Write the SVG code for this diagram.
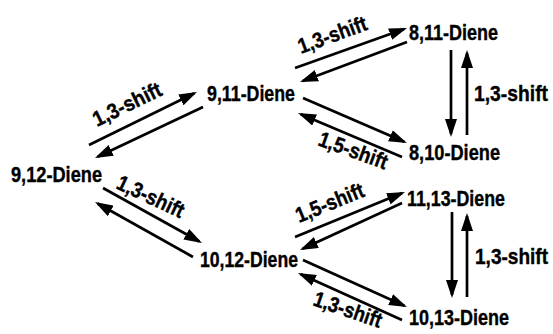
<svg xmlns="http://www.w3.org/2000/svg" width="553" height="334" viewBox="0 0 553 334">
<defs>
<style>
text{font-family:"Liberation Sans",Arial,sans-serif;font-weight:bold;fill:#000;stroke:#000;stroke-width:0.4}
.n{font-size:22.5px}
.s{font-size:21.5px}
.c line{stroke:#000;stroke-width:2.7;marker-end:url(#ah)}
</style>
<marker id="ah" viewBox="0 0 18 12" markerWidth="18" markerHeight="12" refX="15" refY="6" orient="auto" markerUnits="userSpaceOnUse">
<path d="M0,0 L18,6 L0,12 z" fill="#000"/>
</marker>
</defs>
<rect width="553" height="334" fill="#fff"/>
<g id="n912"><text class="n" x="11" y="182" textLength="91" lengthAdjust="spacingAndGlyphs">9,12-Diene</text></g>
<g id="n911"><text class="n" x="207" y="101" textLength="88" lengthAdjust="spacingAndGlyphs">9,11-Diene</text></g>
<g id="n811"><text class="n" x="409" y="40" textLength="89" lengthAdjust="spacingAndGlyphs">8,11-Diene</text></g>
<g id="n810"><text class="n" x="409" y="160" textLength="91" lengthAdjust="spacingAndGlyphs">8,10-Diene</text></g>
<g id="n1113"><text class="n" x="407" y="206" textLength="98" lengthAdjust="spacingAndGlyphs">11,13-Diene</text></g>
<g id="n1012"><text class="n" x="200" y="267" textLength="98" lengthAdjust="spacingAndGlyphs">10,12-Diene</text></g>
<g id="n1013"><text class="n" x="409" y="325" textLength="100" lengthAdjust="spacingAndGlyphs">10,13-Diene</text></g>
<g class="c" id="connectors">
<line x1="89" y1="145" x2="194.3" y2="93.3"/>
<line x1="203" y1="107" x2="97.7" y2="156.7"/>
<line x1="295" y1="68" x2="404.2" y2="29"/>
<line x1="407" y1="42" x2="302.8" y2="81"/>
<line x1="303" y1="98" x2="404.2" y2="141.8"/>
<line x1="402" y1="157" x2="300.8" y2="114.2"/>
<line x1="103" y1="188" x2="199.4" y2="241.5"/>
<line x1="193" y1="257" x2="97.6" y2="203.5"/>
<line x1="295" y1="237" x2="402.2" y2="193.1"/>
<line x1="402" y1="203" x2="302.7" y2="248.7"/>
<line x1="303" y1="260" x2="404.3" y2="305.8"/>
<line x1="402" y1="320" x2="300.7" y2="274.2"/>
<line x1="451" y1="50" x2="451" y2="134"/>
<line x1="467" y1="135" x2="467" y2="53"/>
<line x1="452" y1="212" x2="452" y2="295"/>
<line x1="467" y1="297" x2="467" y2="216"/>
</g>
<g id="labels">
<text class="s" transform="translate(97,127) rotate(-26)" textLength="74" lengthAdjust="spacingAndGlyphs">1,3-shift</text>
<text class="s" transform="translate(301,54) rotate(-20)" textLength="72" lengthAdjust="spacingAndGlyphs">1,3-shift</text>
<text class="s" transform="translate(317,145) rotate(20)" textLength="72" lengthAdjust="spacingAndGlyphs">1,5-shift</text>
<text class="s" transform="translate(115,188) rotate(25)" textLength="72" lengthAdjust="spacingAndGlyphs">1,3-shift</text>
<text class="s" transform="translate(299,223) rotate(-22)" textLength="72" lengthAdjust="spacingAndGlyphs">1,5-shift</text>
<text class="s" transform="translate(312,305) rotate(19)" textLength="71" lengthAdjust="spacingAndGlyphs">1,3-shift</text>
<text class="n" x="474" y="101" textLength="74" lengthAdjust="spacingAndGlyphs">1,3-shift</text>
<text class="n" x="475" y="264" textLength="73" lengthAdjust="spacingAndGlyphs">1,3-shift</text>
</g>
</svg>
